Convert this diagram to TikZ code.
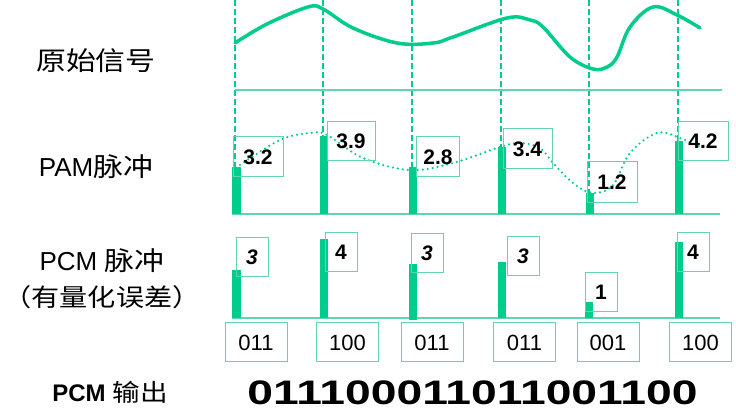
\documentclass[tikz,border=0pt]{standalone}
\usepackage{fontspec}
\setmainfont{Liberation Sans}
\newfontfamily\cjk[FakeStretch=1.15]{Noto Sans CJK SC}
\newfontfamily\widenum[FakeStretch=1.36]{Liberation Sans}
\definecolor{pcmgreen}{RGB}{0,204,140}
\definecolor{boxgreen}{RGB}{95,214,176}
\tikzset{every picture/.style={line width=0.75pt}}
\tikzset{
	samp/.style={draw=pcmgreen, line width=1.1pt, dash pattern=on 6pt off 3pt},
	axisline/.style={draw=boxgreen, line width=1.3pt},
	bar/.style={fill=pcmgreen},
	valbox/.style={draw=boxgreen, line width=1pt, inner sep=0pt, font=\bfseries\fontsize{21}{21}\selectfont},
	qbox/.style={valbox, minimum width=32pt, minimum height=39pt},
	codebox/.style={draw=boxgreen, line width=1pt, inner sep=0pt, minimum width=62pt, minimum height=39pt, font=\fontsize{22}{22}\selectfont},
	rowlabel/.style={font=\fontsize{26}{26}\selectfont, inner sep=0pt}}

\begin{document}
\begin{tikzpicture}[x=1pt,y=1pt,yscale=-1,xscale=1]
	\useasboundingbox (0,0) rectangle (736,419);

	%Dashed sampling lines
	\draw [samp] (235,0) -- (235,167) ;
	\draw [samp] (323,0) -- (323,136) ;
	\draw [samp] (412,0) -- (412,167) ;
	\draw [samp] (501,0) -- (501,147) ;
	\draw [samp] (589,0) -- (589,193) ;
	\draw [samp] (678,0) -- (678,141) ;

	%Original signal
	\draw [axisline] (235,90) -- (722,90) ;
	\draw [pcmgreen, line width=3.5pt, line cap=round] plot [smooth, tension=0.6] coordinates {(235,43) (267,24) (308,7) (323,9) (353,28) (397,43) (433,43) (453,37) (507,18) (530,20) (543,27) (570,57) (593,69) (607,67) (617,57) (630,27) (653,7) (677,15) (700,28)} ;

	%PAM pulses
	\draw [axisline] (232,214) -- (720,214) ;
	\fill [bar] (232,167) rectangle (241,214) ;
	\fill [bar] (320,136) rectangle (328,214) ;
	\fill [bar] (409,167) rectangle (417,214) ;
	\fill [bar] (498,147) rectangle (506,214) ;
	\fill [bar] (586,193) rectangle (594,214) ;
	\fill [bar] (675,141) rectangle (683,214) ;
	\draw [pcmgreen, line width=2.4pt, line cap=round, dash pattern=on 0pt off 5pt] plot [smooth, tension=0.6] coordinates {(240,165) (280,140) (310,133) (327,135) (363,158) (410,170) (453,163) (500,147) (520,143) (540,148) (553,163) (573,183) (593,193) (613,185) (630,153) (657,133) (680,138) (700,147)} ;

	% Text Node
	\node [valbox, minimum width=50pt, minimum height=40pt] (pam1) at (258,157) {3.2};
	\node [valbox, minimum width=48pt, minimum height=39pt] (pam2) at (351,141.5) {3.9};
	\node [valbox, minimum width=43pt, minimum height=40pt] (pam3) at (438,157) {2.8};
	\node [valbox, minimum width=49pt, minimum height=40pt] (pam4) at (527.5,149) {3.4};
	\node [valbox, minimum width=50pt, minimum height=41pt] (pam5) at (612,182.5) {1.2};
	\node [valbox, minimum width=50pt, minimum height=39pt] (pam6) at (703,141.5) {4.2};

	%PCM pulses
	\draw [axisline] (232,318) -- (720,318) ;
	\fill [bar] (232,270) rectangle (241,318) ;
	\fill [bar] (320,239) rectangle (328,318) ;
	\fill [bar] (409,264) rectangle (417,320) ;
	\fill [bar] (498,262) rectangle (506,318) ;
	\fill [bar] (585,302) rectangle (593,318) ;
	\fill [bar] (675,242) rectangle (683,318) ;

	% Text Node
	\node [qbox] (q1) at (252,257.5) {\itshape 3};
	\node [qbox] (q2) at (341,252.5) {4};
	\node [qbox] (q3) at (427,253.5) {\itshape 3};
	\node [qbox] (q4) at (523,256.5) {\itshape 3};
	\node [qbox] (q5) at (601,292.5) {1};
	\node [qbox] (q6) at (693,252.5) {4};

	% Code words
	\node [codebox] (c1) at (256,342.5) {011};
	\node [codebox] (c2) at (347.5,342.5) {100};
	\node [codebox] (c3) at (432,342.5) {011};
	\node [codebox] (c4) at (524.5,342.5) {011};
	\node [codebox] (c5) at (608,342.5) {001};
	\node [codebox] (c6) at (700.5,342.5) {100};

	% Row labels
	\node [rowlabel] (orig) at (96,61) {\cjk 原始信号};
	\node [rowlabel] (pam) at (96,167) {PAM{\cjk 脉冲}};
	\node [rowlabel] (pcm) at (102,261) {PCM {\cjk 脉冲}};
	\node [rowlabel, font=\fontsize{24.5}{24.5}\selectfont] (err) at (102,297) {\cjk （有量化误差）};
	\node [inner sep=0pt] (out) at (110,392) {\fontsize{24}{24}\selectfont\bfseries PCM {\cjk\mdseries 输出}};
	\node [inner sep=0pt] (bits) at (472.5,393) {\widenum\bfseries\fontsize{34}{34}\selectfont 011100011011001100};

\end{tikzpicture}
\end{document}
